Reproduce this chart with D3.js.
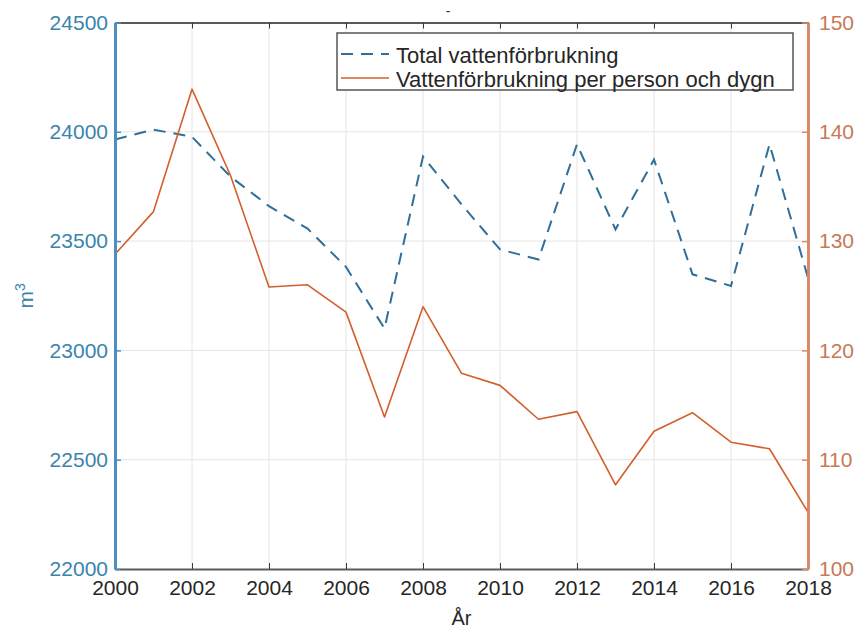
<!DOCTYPE html>
<html>
<head>
<meta charset="utf-8">
<script src="https://cdn.jsdelivr.net/npm/d3@7"></script>
<style>
  html, body { margin: 0; padding: 0; background: #fff; }
  svg { display: block; font-family: "Liberation Sans", Arial, sans-serif; }
</style>
</head>
<body>
<svg id="chart" width="858" height="630"></svg>
<script>
// Years on the x axis
const years = [2000, 2001, 2002, 2003, 2004, 2005, 2006, 2007, 2008, 2009,
               2010, 2011, 2012, 2013, 2014, 2015, 2016, 2017, 2018];
// Total water consumption (m3), left axis
const totalUse = [23965, 24010, 23977, 23795, 23660, 23557, 23382, 23100, 23887, 23668,
                  23462, 23416, 23943, 23553, 23873, 23348, 23295, 23943, 23332];
// Consumption per person and day, right axis
const perPerson = [128.8, 132.7, 143.9, 136.0, 125.8, 126.0, 123.5, 113.9, 124.0, 117.9,
                   116.8, 113.7, 114.4, 107.7, 112.6, 114.3, 111.6, 111.0, 105.2];

const xTicks = [2000, 2002, 2004, 2006, 2008, 2010, 2012, 2014, 2016, 2018];
const leftTicks = [22000, 22500, 23000, 23500, 24000, 24500];
const rightTicks = [100, 110, 120, 130, 140, 150];
const legendLabels = ["Total vattenförbrukning", "Vattenförbrukning per person och dygn"];

const blue = "#2f6f98";
const blueAxis = "#4a8fbf";
const blueText = "#3a84ad";
const orange = "#d25f2c";
const orangeAxis = "#d98a6a";
const orangeText = "#c77a55";

const L = 115, R = 808, T = 22.5, B = 569;

const svg = d3.select("#chart");

const x = d3.scaleLinear().domain([2000, 2018]).range([L, R]);
const yL = d3.scaleLinear().domain([22000, 24500]).range([B, T]);
const yR = d3.scaleLinear().domain([100, 150]).range([B, T]);

// grid
const grid = svg.append("g").attr("stroke", "#e4e4e4").attr("stroke-width", 1);
grid.selectAll("line.gx").data(xTicks.slice(1, -1)).join("line")
  .attr("x1", d => x(d)).attr("x2", d => x(d)).attr("y1", T).attr("y2", B);
grid.selectAll("line.gy").data(leftTicks.slice(1, -1)).join("line")
  .attr("x1", L).attr("x2", R).attr("y1", d => yL(d)).attr("y2", d => yL(d));

// data lines
svg.append("path")
  .datum(years.map((y, i) => [y, totalUse[i]]))
  .attr("fill", "none").attr("stroke", blue).attr("stroke-width", 2)
  .attr("stroke-dasharray", "12,8")
  .attr("d", d3.line().x(d => x(d[0])).y(d => yL(d[1])));

svg.append("path")
  .datum(years.map((y, i) => [y, perPerson[i]]))
  .attr("fill", "none").attr("stroke", orange).attr("stroke-width", 1.6)
  .attr("stroke-linejoin", "round")
  .attr("d", d3.line().x(d => x(d[0])).y(d => yR(d[1])));

// bottom axis
const xAxis = svg.append("g").attr("transform", `translate(0,${B})`)
  .call(d3.axisBottom(x).tickValues(xTicks).tickFormat(d3.format("d"))
        .tickSize(-6).tickSizeOuter(0).tickPadding(11));
xAxis.select(".domain").attr("stroke", "#5a5a5a").attr("stroke-width", 2);
xAxis.selectAll(".tick line").attr("stroke", "#3a3a3a");
xAxis.selectAll("text").attr("fill", "#262626").attr("font-size", 21);

// top axis (box)
const topAxis = svg.append("g").attr("transform", `translate(0,${T})`)
  .call(d3.axisTop(x).tickValues(xTicks).tickFormat("").tickSize(-6).tickSizeOuter(0));
topAxis.select(".domain").attr("stroke", "#5a5a5a").attr("stroke-width", 2);
topAxis.selectAll(".tick line").attr("stroke", "#3a3a3a");

// left axis
const leftAxis = svg.append("g").attr("transform", `translate(${L},0)`)
  .call(d3.axisLeft(yL).tickValues(leftTicks).tickFormat(d3.format("d"))
        .tickSize(-6).tickSizeOuter(0).tickPadding(7));
leftAxis.select(".domain").attr("stroke", blueAxis).attr("stroke-width", 3);
leftAxis.selectAll(".tick line").attr("stroke", blueAxis).attr("stroke-width", 1.5);
leftAxis.selectAll("text").attr("fill", blueText).attr("font-size", 21);

// right axis
const rightAxis = svg.append("g").attr("transform", `translate(${R},0)`)
  .call(d3.axisRight(yR).tickValues(rightTicks).tickFormat(d3.format("d"))
        .tickSize(-6).tickSizeOuter(0).tickPadding(11));
rightAxis.select(".domain").attr("stroke", orangeAxis).attr("stroke-width", 3);
rightAxis.selectAll(".tick line").attr("stroke", orangeAxis).attr("stroke-width", 1.5);
rightAxis.selectAll("text").attr("fill", orangeText).attr("font-size", 21);

// axis labels
svg.append("text").attr("x", (L + R) / 2).attr("y", 625)
  .attr("text-anchor", "middle").attr("font-size", 20).attr("fill", "#262626")
  .text("År");

const yl = svg.append("text")
  .attr("transform", `translate(33,${(T + B) / 2}) rotate(-90)`)
  .attr("text-anchor", "middle").attr("font-size", 21).attr("fill", blueText);
yl.append("tspan").text("m");
yl.append("tspan").attr("dy", -8).attr("font-size", 14).text("3");

// empty title mark
svg.append("text").attr("x", 448).attr("y", 16).attr("text-anchor", "middle")
  .attr("font-size", 14).attr("fill", "#333").text("-");

// legend
const lg = svg.append("g");
lg.append("rect").attr("x", 337).attr("y", 33).attr("width", 456).attr("height", 57)
  .attr("fill", "#fff").attr("stroke", "#555").attr("stroke-width", 1.5);
const rows = [
  { label: legendLabels[0], color: blue, dash: "12,8", w: 2, y: 54 },
  { label: legendLabels[1], color: orange, dash: null, w: 1.6, y: 78 }
];
rows.forEach(r => {
  lg.append("line").attr("x1", 341).attr("x2", 389).attr("y1", r.y).attr("y2", r.y)
    .attr("stroke", r.color).attr("stroke-width", r.w)
    .attr("stroke-dasharray", r.dash);
  lg.append("text").attr("x", 396).attr("y", r.y + 9).attr("font-size", 22)
    .attr("fill", "#262626").text(r.label);
});
</script>
</body>
</html>
